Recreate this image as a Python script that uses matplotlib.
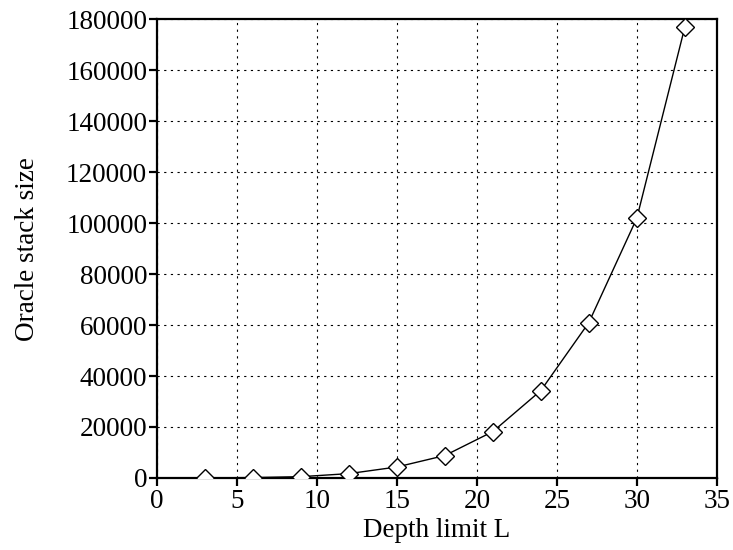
import numpy as np
import matplotlib
matplotlib.use('Agg')
import matplotlib.pyplot as plt

plt.rcParams['font.family'] = ['Liberation Serif', 'DejaVu Serif']

depth = [3, 6, 9, 12, 15, 18, 21, 24, 27, 30, 33]
stack = [30, 150, 500, 1700, 4300, 8800, 18200, 34300, 61000, 102000, 177000]

fs = 19.5
fig = plt.figure(figsize=(7.33, 5.5), dpi=100)
ax = fig.add_axes([0.214, 0.131, 0.764, 0.834])

ax.plot(depth, stack, c='k', lw=1.0, marker='D', ms=9,
        mfc='white', mec='k', mew=1.0, zorder=3)

ax.set_xlim(0, 35)
ax.set_ylim(0, 180000)
ax.set_xticks(np.arange(0, 36, 5))
ax.set_yticks(np.arange(0, 180001, 20000))
ax.grid(True, c='k', ls=(0, (2, 4)), lw=0.8)
ax.set_axisbelow(True)

for s in ax.spines.values():
    s.set_linewidth(1.6)
ax.tick_params(direction='out', length=6, width=1.6, labelsize=fs, pad=2,
               top=False, right=False)
ax.tick_params(axis='y', pad=1)

ax.set_xlabel('Depth limit L', fontsize=fs, labelpad=3)
ax.set_ylabel('Oracle stack size', fontsize=fs, labelpad=19)

fig.savefig('out.png', dpi=100)
